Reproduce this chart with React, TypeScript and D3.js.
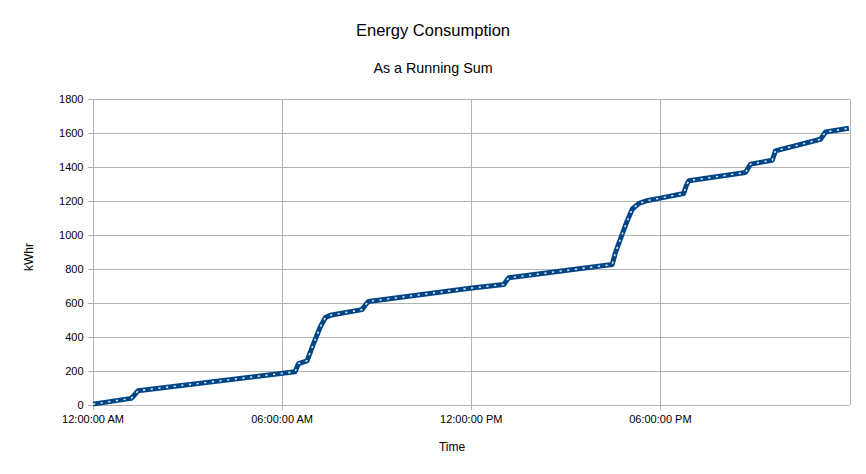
import React from "react";
import * as d3 from "d3";

const title = "Energy Consumption";
const subtitle = "As a Running Sum";
const yLabel = "kWhr";
const xLabel = "Time";

// hours since midnight, running sum kWhr
const hours = [
  0, 1.21, 1.3, 1.43, 6.41, 6.52, 6.79, 7.0, 7.21, 7.37, 7.53, 8.53, 8.65, 8.74,
  12.02, 13.03, 13.19, 16.47, 16.58, 16.79, 16.95, 17.11, 17.32, 17.6, 18.0, 18.74,
  18.82, 18.9, 20.7, 20.86, 21.55, 21.65, 23.08, 23.24, 23.98,
];
const kwh = [
  5, 39, 55, 84, 195, 244, 260, 362, 459, 514, 528, 561, 590, 609,
  688, 709, 748, 826, 899, 1006, 1084, 1153, 1186, 1203, 1217, 1244,
  1290, 1319, 1368, 1417, 1440, 1495, 1563, 1606, 1628,
];

const yTicks = [0, 200, 400, 600, 800, 1000, 1200, 1400, 1600, 1800];
const xTicks = [0, 6, 12, 18, 24];
const xTickLabels = ["12:00:00 AM", "06:00:00 AM", "12:00:00 PM", "06:00:00 PM", ""];

const W = 866;
const H = 474;
const FONT = "'Liberation Sans', Arial, sans-serif";
const BLUE = "#004586";
const GRID = "#b3b3b3";

export default function App() {
  const x = d3.scaleLinear().domain([0, 24]).range([93, 849.5]);
  const y = d3.scaleLinear().domain([0, 1800]).range([405, 99]);
  const pts: [number, number][] = hours.map((h, i) => [h, kwh[i]]);
  const line = d3
    .line<[number, number]>()
    .x((d) => x(d[0]))
    .y((d) => y(d[1]))
    .curve(d3.curveLinear);
  const path = line(pts) || "";

  return (
    <svg
      width={W}
      height={H}
      style={{ position: "absolute", left: 0, top: 0, background: "#fff" }}
      fontFamily={FONT}
    >
      <rect x={0} y={0} width={W} height={H} fill="#fff" />
      {/* grid */}
      {yTicks.map((t) => (
        <g key={"y" + t}>
          <line x1={88} x2={x(24)} y1={Math.round(y(t)) + 0.5} y2={Math.round(y(t)) + 0.5} stroke={GRID} strokeWidth={1} />
          <text x={83.5} y={y(t) + 4} textAnchor="end" fontSize={11} fill="#000">
            {t}
          </text>
        </g>
      ))}
      {xTicks.map((t, i) => (
        <g key={"x" + t}>
          <line
            x1={Math.round(x(t)) + 0.5}
            x2={Math.round(x(t)) + 0.5}
            y1={y(1800)}
            y2={t === 24 ? y(0) : y(0) + 5}
            stroke={GRID}
            strokeWidth={1}
          />
          {xTickLabels[i] && (
            <text x={x(t)} y={423.3} textAnchor="middle" fontSize={11} fill="#000">
              {xTickLabels[i]}
            </text>
          )}
        </g>
      ))}
      {/* series */}
      <path d={path} fill="none" stroke={BLUE} strokeWidth={5} strokeLinejoin="round" />
      <path d={path} fill="none" stroke="#fff" strokeWidth={1.6} strokeDasharray="2.2 5.5" opacity={0.85} />
      {/* titles */}
      <text x={433} y={36} textAnchor="middle" fontSize={16.5} fill="#000">
        {title}
      </text>
      <text x={433} y={73} textAnchor="middle" fontSize={14.3} fill="#000">
        {subtitle}
      </text>
      <text x={452} y={451} textAnchor="middle" fontSize={12} fill="#000">
        {xLabel}
      </text>
      <text
        transform={`translate(32.5,257) rotate(-90)`}
        textAnchor="middle"
        fontSize={12}
        fill="#000"
      >
        {yLabel}
      </text>
    </svg>
  );
}
